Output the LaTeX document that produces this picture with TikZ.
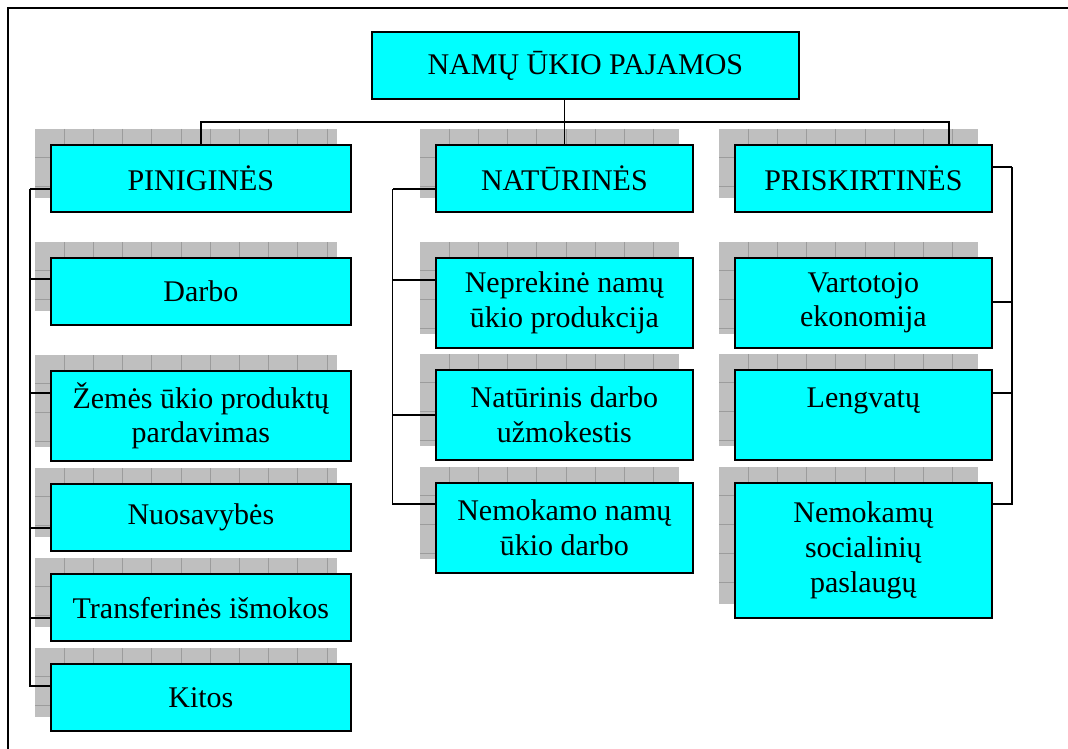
\documentclass[tikz,border=0pt]{standalone}
\usepackage{fontspec}
\setmainfont{Liberation Serif}
\usetikzlibrary{backgrounds}

\definecolor{boxcyan}{RGB}{0,255,255}

\tikzset{
  cell/.style={draw=black, line width=1.3pt, fill=boxcyan, anchor=north west, align=center, inner sep=0pt, font=\fontsize{22.5}{26}\selectfont},
  wide/.style={cell, minimum width=225pt},
  narrow/.style={cell, minimum width=192.75pt},
  short/.style={minimum height=50.6pt},
  tall/.style={minimum height=67.5pt},
  link/.style={draw=black, line width=1.1pt},
  shade/.style={fill=gray!50!white},
  shadeline/.style={draw=gray!78!white, line width=0.6pt},
}

\begin{document}
\begin{tikzpicture}[x=0.75pt,y=-0.75pt]
	\useasboundingbox (0,0) rectangle (1068,749);
	\draw[line width=1.2pt] (8,8) rectangle (1090,770);

	\node [cell, minimum width=320.25pt, minimum height=50.6pt] (top) at (371,31) {NAMŲ ŪKIO PAJAMOS};

	% pinigines
	\node [wide, short] (pin) at (50,144) {PINIGINĖS};
	\node [wide, short] (darbo) at (50,257) {Darbo};
	\node [wide, tall] (zemes) at (50,370) {Žemės ūkio produktų\\pardavimas};
	\node [wide, short] (nuos) at (50,483) {Nuosavybės};
	\node [wide, short] (trans) at (50,573) {Transferinės išmokos};
	\node [wide, short] (kitos) at (50,663) {Kitos};

	% naturines
	\node [narrow, short] (nat) at (435,144) {NATŪRINĖS};
	\node [narrow, tall] (neprek) at (435,257) {Neprekinė namų\\ūkio produkcija};
	\node [narrow, tall] (natdarb) at (435,369) {Natūrinis darbo\\užmokestis};
	\node [narrow, tall] (nemnam) at (435,482) {Nemokamo namų\\ūkio darbo};

	% priskirtines
	\node [narrow, short] (prisk) at (734,144) {PRISKIRTINĖS};
	\node [narrow, tall] (vart) at (734,257) {Vartotojo\\ekonomija};
	\node [narrow, tall] (leng) at (734,369) {Lengvatų\\~};
	\node [narrow, minimum height=101.25pt] (nemsoc) at (734,482) {Nemokamų\\socialinių\\paslaugų};

	% shadows
	\begin{scope}[on background layer]
		\foreach \n in {pin,darbo,zemes,nuos,trans,kitos,nat,neprek,natdarb,nemnam,prisk,vart,leng,nemsoc} {
			\path ([shift={(-15,-15)}]\n.north west) coordinate (s1)
			      ([shift={(-15,-15)}]\n.south east) coordinate (s2);
			\fill[shade] (s1) rectangle (s2);
			\begin{scope}
				\clip (s1) rectangle (s2);
				\begin{scope}[shift={(s1)}]
					\foreach \k in {1,...,11} \draw[shadeline] (\k*29.2,0) -- (\k*29.2,200);
					\foreach \k in {1,...,5} \draw[shadeline] (0,\k*28.8) -- (350,\k*28.8);
				\end{scope}
			\end{scope}
		}
	\end{scope}

	% connectors
	\coordinate (bus) at (563,122);
	\draw[link] (pin.north) |- (bus) -| ([shift={(85.5,0)}]prisk.north);
	\draw[link] (top.south -| nat.north) -- (nat.north);

	\coordinate (lspine) at (30,189);
	\foreach \n/\d in {pin/45,darbo/22,zemes/23,nuos/45,trans/45,kitos/23}
		\draw[link] ([shift={(0,\d)}]\n.north west) -| (lspine);

	\coordinate (mspine) at (392.7,189);
	\foreach \n/\d in {nat/45,neprek/23,natdarb/46,nemnam/22}
		\draw[link] ([shift={(0,\d)}]\n.north west) -| (mspine);

	\coordinate (rspine) at (1012,167);
	\foreach \n/\d in {prisk/23,vart/45,leng/24,nemsoc/22}
		\draw[link] ([shift={(0,\d)}]\n.north east) -| (rspine);
\end{tikzpicture}
\end{document}
